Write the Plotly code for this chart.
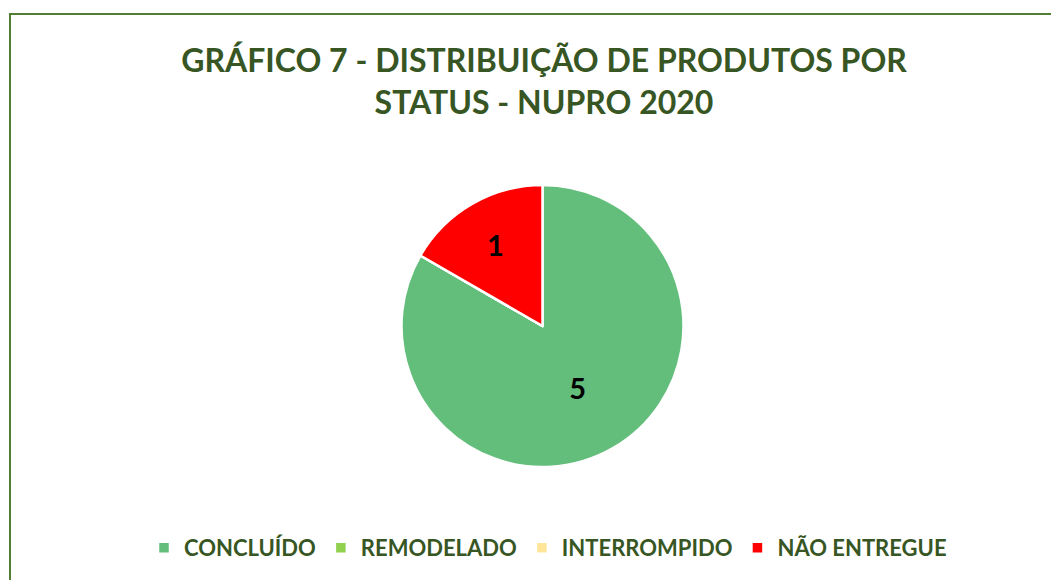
import plotly.graph_objects as go

# data
status_labels = ["CONCLUÍDO", "REMODELADO", "INTERROMPIDO", "NÃO ENTREGUE"]
status_counts = [5, 0, 0, 1]
status_colors = ["#63BE7B", "#92D050", "#FFE699", "#FF0000"]

title_text = "GRÁFICO 7 - DISTRIBUIÇÃO DE PRODUTOS POR<br>STATUS - NUPRO 2020"
dark_green = "#375623"
font_family = "Lato, Open Sans, sans-serif"

W, H = 1059, 580
OFF = 8  # page body margin shifts the figure by 8px

fig = go.Figure()
fig.add_trace(go.Pie(
    labels=status_labels,
    values=status_counts,
    marker=dict(colors=status_colors, line=dict(color="white", width=2.5)),
    sort=False,
    direction="clockwise",
    rotation=0,
    textinfo="value",
    textposition="inside",
    insidetextorientation="horizontal",
    textfont=dict(family=font_family, size=29, color="black", weight="bold"),
    hoverinfo="label+value",
    domain=dict(x=[(401.5 - OFF) / W, (683.5 - OFF) / W],
                y=[(H - 467 + OFF) / H, (H - 185 + OFF) / H]),
))

fig.update_layout(
    width=W,
    height=H,
    margin=dict(l=0, r=0, t=0, b=0),
    paper_bgcolor="white",
    plot_bgcolor="white",
    title=dict(
        text=title_text,
        x=(544 - OFF) / W,
        xanchor="center",
        y=1 - 64 / H,
        yanchor="middle",
        yref="container",
        font=dict(family=font_family, size=32, color=dark_green, weight="bold"),
    ),
    showlegend=True,
    legend=dict(
        orientation="h",
        x=(548 - OFF) / W,
        xanchor="center",
        y=(H - 548 + OFF) / H,
        yanchor="middle",
        font=dict(family=font_family, size=22, color=dark_green, weight="bold"),
        traceorder="normal",
    ),
    shapes=[dict(
        type="rect", xref="paper", yref="paper",
        x0=(10 - OFF) / W, x1=1.05, y0=-0.05, y1=(H - 14 + OFF) / H,
        line=dict(color="#507E32", width=2),
        fillcolor="rgba(0,0,0,0)",
    )],
)

fig.write_html("out.html")
